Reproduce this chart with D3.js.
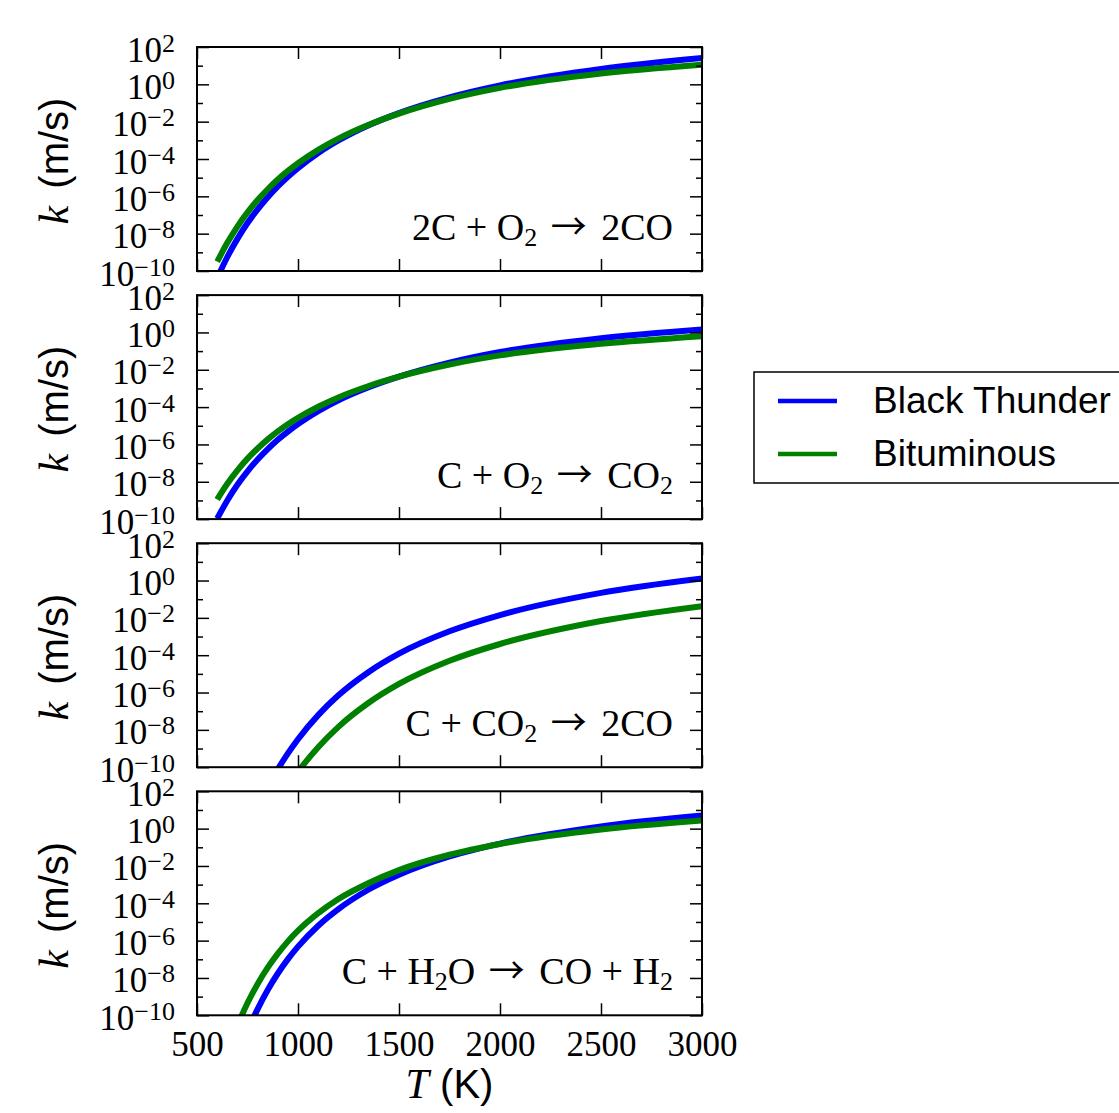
<!DOCTYPE html>
<html>
<head>
<meta charset="utf-8">
<script src="https://cdn.jsdelivr.net/npm/d3@7"></script>
<style>
  body { margin: 0; background: #fff; }
  text { white-space: pre; }
</style>
</head>
<body>
<svg id="chart" width="1119" height="1113"></svg>
<script>
// temperatures (K) and log10 of k (m/s)
var temps = [600, 650, 700, 750, 800, 850, 900, 950, 1000, 1100, 1200, 1350, 1500, 1750, 2000, 2500, 3000];

var blackThunder1 = [-10.38, -9.25, -8.28, -7.43, -6.70, -6.05, -5.47, -4.95, -4.49, -3.68, -3.01, -2.19, -1.54, -0.70, -0.06, 0.82, 1.41];
var bituminous1   = [-9.50, -8.49, -7.62, -6.86, -6.20, -5.62, -5.10, -4.64, -4.23, -3.51, -2.91, -2.17, -1.57, -0.78, -0.19, 0.58, 1.05];

var blackThunder2 = [-9.97, -9.00, -8.16, -7.44, -6.81, -6.25, -5.75, -5.31, -4.91, -4.22, -3.64, -2.94, -2.37, -1.62, -1.05, -0.31, 0.16];
var bituminous2   = [-8.95, -8.11, -7.39, -6.76, -6.22, -5.73, -5.30, -4.92, -4.58, -3.98, -3.48, -2.87, -2.37, -1.72, -1.23, -0.61, -0.20];

var blackThunder3 = [-18.3, -16.4, -14.8, -13.4, -12.14, -11.06, -10.11, -9.26, -8.50, -7.21, -6.15, -4.90, -3.92, -2.72, -1.85, -0.66, 0.11];
var bituminous3   = [-20.3, -18.3, -16.7, -15.3, -14.0, -12.9, -11.93, -11.05, -10.25, -8.93, -7.84, -6.55, -5.54, -4.30, -3.40, -2.17, -1.37];

var blackThunder4 = [-16.10, -14.01, -12.29, -10.87, -9.67, -8.64, -7.76, -6.99, -6.32, -5.20, -4.31, -3.26, -2.47, -1.49, -0.80, 0.12, 0.70];
var bituminous4   = [-13.82, -12.03, -10.56, -9.34, -8.32, -7.45, -6.70, -6.04, -5.47, -4.53, -3.77, -2.91, -2.22, -1.40, -0.82, -0.05, 0.43];

var seriesNames = ["Black Thunder", "Bituminous"];
var seriesColors = ["#0000ff", "#008000"];

// reaction labels: [text, kind]  kind 0 = normal, 1 = subscript, 2 = arrow
var reactions = [
  [["2C + O", 0], ["2", 1], [" ", 0], ["\u2192", 2], [" 2CO", 0]],
  [["C + O", 0], ["2", 1], [" ", 0], ["\u2192", 2], [" CO", 0], ["2", 1]],
  [["C + CO", 0], ["2", 1], [" ", 0], ["\u2192", 2], [" 2CO", 0]],
  [["C + H", 0], ["2", 1], ["O ", 0], ["\u2192", 2], [" CO + H", 0], ["2", 1]]
];

var panels = [
  [blackThunder1, bituminous1],
  [blackThunder2, bituminous2],
  [blackThunder3, bituminous3],
  [blackThunder4, bituminous4]
];

var xTicks = [500, 1000, 1500, 2000, 2500, 3000];
var yMajor = [-10, -8, -6, -4, -2, 0, 2];
var yMinor = [-9, -7, -5, -3, -1, 1];

var svg = d3.select("#chart");
var left = 197, right = 702, panelTop = 47, panelH = 224, panelStep = 248.1;
var serif = "'Liberation Serif', 'DejaVu Serif', serif";
var sans = "'Liberation Sans', Arial, sans-serif";

var x = d3.scaleLinear().domain([500, 3000]).range([left, right]);

panels.forEach(function(pair, i) {
  var top = panelTop + i * panelStep, bottom = top + panelH;
  var y = d3.scaleLog().domain([1e-10, 1e2]).range([bottom, top]);
  var g = svg.append("g");

  g.append("clipPath").attr("id", "clip" + i)
    .append("rect").attr("x", left).attr("y", top).attr("width", right - left).attr("height", panelH);

  var line = d3.line()
    .x(function(d, j) { return x(temps[j]); })
    .y(function(d) { return y(Math.pow(10, d)); })
    .curve(d3.curveMonotoneX);

  g.append("g").attr("clip-path", "url(#clip" + i + ")")
    .selectAll("path").data(pair).enter().append("path")
      .attr("d", line)
      .attr("fill", "none")
      .attr("stroke", function(d, j) { return seriesColors[j]; })
      .attr("stroke-width", 6);

  // ticks, all pointing inwards
  function styleAxis(a) {
    a.select(".domain").remove();
    a.selectAll(".tick line").attr("stroke", "#000").attr("stroke-width", 1.5);
  }
  var pw = function(e) { return Math.pow(10, e); };

  var yl = g.append("g").attr("transform", "translate(" + left + ",0)")
    .call(d3.axisLeft(y).tickValues(yMajor.map(pw)).tickSize(-12).tickSizeOuter(0).tickPadding(22).tickFormat(""));
  styleAxis(yl);
  yl.selectAll(".tick text").each(function(d) {
    var e = Math.round(Math.log10(d));
    var t = d3.select(this).attr("dy", null).attr("y", 14)
      .attr("fill", "#000").style("font-family", serif).style("font-size", "35px");
    t.append("tspan").text("10");
    t.append("tspan").attr("dy", -10).style("font-size", "26px").text(e < 0 ? "\u2212" + (-e) : String(e));
  });
  styleAxis(g.append("g").attr("transform", "translate(" + left + ",0)")
    .call(d3.axisLeft(y).tickValues(yMinor.map(pw)).tickSize(-6).tickSizeOuter(0).tickFormat("")));
  styleAxis(g.append("g").attr("transform", "translate(" + right + ",0)")
    .call(d3.axisRight(y).tickValues(yMajor.map(pw)).tickSize(-12).tickSizeOuter(0).tickFormat("")));
  styleAxis(g.append("g").attr("transform", "translate(" + right + ",0)")
    .call(d3.axisRight(y).tickValues(yMinor.map(pw)).tickSize(-6).tickSizeOuter(0).tickFormat("")));
  styleAxis(g.append("g").attr("transform", "translate(0," + top + ")")
    .call(d3.axisTop(x).tickValues(xTicks).tickSize(-12).tickSizeOuter(0).tickFormat("")));
  var xb = g.append("g").attr("transform", "translate(0," + bottom + ")")
    .call(d3.axisBottom(x).tickValues(xTicks).tickSize(-12).tickSizeOuter(0).tickPadding(0)
      .tickFormat(i === panels.length - 1 ? d3.format("d") : ""));
  styleAxis(xb);
  xb.selectAll(".tick text").attr("dy", null).attr("y", 41)
    .attr("fill", "#000").style("font-family", serif).style("font-size", "35px");

  g.append("rect").attr("x", left).attr("y", top).attr("width", right - left).attr("height", panelH)
    .attr("fill", "none").attr("stroke", "#000").attr("stroke-width", 2);

  // reaction label
  var rt = g.append("text").attr("x", 673).attr("y", top + 193).attr("text-anchor", "end")
    .style("font-family", serif).style("font-size", "38px");
  var shifted = false, afterArrow = false;
  reactions[i].forEach(function(p) {
    var ts = rt.append("tspan").text(p[0]);
    if (p[1] === 1) { ts.attr("dy", 6).style("font-size", "26px"); shifted = true; return; }
    if (shifted) { ts.attr("dy", -6); shifted = false; }
    if (afterArrow) { ts.attr("dx", 5); afterArrow = false; }
    if (p[1] === 2) {
      ts.attr("dx", 4).style("font-family", "'Noto Sans CJK JP', 'DejaVu Sans', sans-serif").style("font-size", "36px");
      afterArrow = true;
    }
  });

  // y label
  var yt = g.append("text").attr("text-anchor", "middle")
    .attr("transform", "translate(68," + (top + panelH / 2 + 2) + ") rotate(-90)");
  yt.append("tspan").style("font-family", serif).style("font-style", "italic").style("font-size", "42px").text("k");
  yt.append("tspan").attr("dx", 6).style("font-family", sans).style("font-size", "40px").text(" (m/s)");
});

// x label
var xt = svg.append("text").attr("x", (left + right) / 2).attr("y", 1098).attr("text-anchor", "middle");
xt.append("tspan").style("font-family", serif).style("font-style", "italic").style("font-size", "42px").text("T");
xt.append("tspan").style("font-family", sans).style("font-size", "40px").text(" (K)");

// legend
var lg = svg.append("g");
lg.append("rect").attr("x", 754).attr("y", 372).attr("width", 420).attr("height", 111)
  .attr("fill", "#fff").attr("stroke", "#000").attr("stroke-width", 1.5);
seriesNames.forEach(function(name, j) {
  var ly = 401 + j * 53;
  lg.append("line").attr("x1", 778).attr("x2", 837).attr("y1", ly).attr("y2", ly)
    .attr("stroke", seriesColors[j]).attr("stroke-width", 4.5);
  lg.append("text").attr("x", 873).attr("y", ly + 12)
    .style("font-family", sans).style("font-size", "37px").text(name);
});
</script>
</body>
</html>
